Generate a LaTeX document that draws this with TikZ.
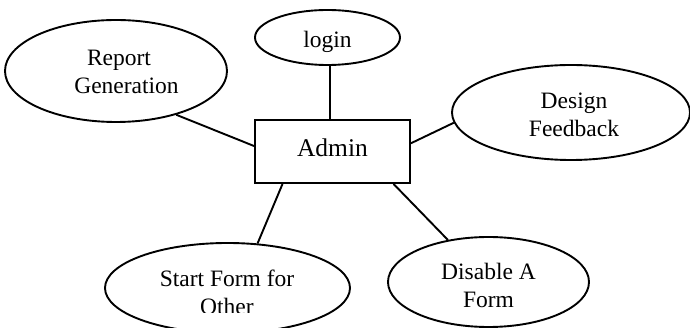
\documentclass[tikz,border=0pt]{standalone}
\usepackage{fontspec}
\setmainfont{Liberation Serif}
\usetikzlibrary{shapes.geometric}
\begin{document}
\begin{tikzpicture}[x=1pt,y=-1pt,
  ent/.style={draw, line width=1.9pt, ellipse, inner sep=0pt},
  entbox/.style={draw, line width=1.9pt, rectangle, inner sep=0pt},
  lbl/.style={inner sep=0pt, anchor=base, font=\fontsize{23.5}{28}\selectfont},
  link/.style={line width=1.9pt}]
\useasboundingbox (0,0) rectangle (690,328);
% shapes
\node[entbox, minimum width=155pt, minimum height=63pt] (admin) at (332.5,151.5) {};
\node[ent, minimum width=222pt, minimum height=102pt] (rep) at (116,71) {};
\node[ent, minimum width=145pt, minimum height=55pt] (login) at (327.5,37.5) {};
\node[ent, minimum width=238pt, minimum height=95pt] (design) at (571,112.5) {};
\node[ent, minimum width=245pt, minimum height=90pt] (start) at (227.5,288) {};
\node[ent, minimum width=201pt, minimum height=90pt] (disable) at (488.5,282) {};
% texts
\node[lbl, font=\fontsize{25.5}{28}\selectfont] (adminT) at (332.5,157) {Admin};
\node[lbl] (repT) at (126.5,66) {\begin{tabular}[t]{@{}c@{}}Report\hspace*{15pt}\\Generation\end{tabular}};
\node[lbl] (loginT) at (327.5,48) {login};
\node[lbl] (designT) at (574,109) {\begin{tabular}[t]{@{}c@{}}Design\\Feedback\end{tabular}};
\begin{scope}
\clip (100,240) rectangle (360,312.5);
\node[lbl] (startT) at (227,286.5) {\begin{tabular}[t]{@{}c@{}}Start Form for\\Other\end{tabular}};
\end{scope}
\node[lbl] (disableT) at (488.5,280) {\begin{tabular}[t]{@{}c@{}}Disable A\\Form\end{tabular}};
% connectors
\coordinate (lx) at (330,0);
\draw[link] (login.south -| lx) -- (admin.north -| lx);
\draw[link] (rep.-36) -- (admin.176.7);
\draw[link] (admin.6.3) -- (design.-175.4);
\draw[link] (admin.-147.5) -- (start.56.8);
\draw[link] (admin.-28.7) -- (disable.134);
\end{tikzpicture}
\end{document}
